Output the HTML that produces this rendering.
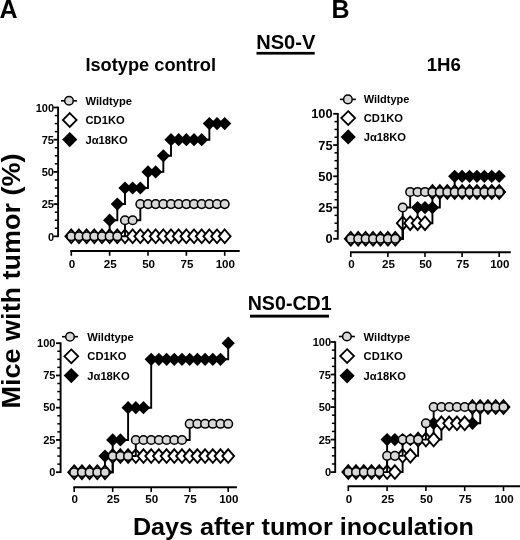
<!DOCTYPE html>
<html><head><meta charset="utf-8"><title>Figure</title>
<style>
html,body{margin:0;padding:0;background:#fff;}
body{width:520px;height:540px;overflow:hidden;}
svg{display:block;filter:blur(0.3px);}
</style></head>
<body>
<svg width="520" height="540" viewBox="0 0 520 540">
<rect width="520" height="540" fill="#fff"/>
<g stroke="#000" fill="none">
<line x1="58.1" y1="106.7" x2="58.1" y2="237.1" stroke-width="1.9"/>
<line x1="53.5" y1="236.3" x2="58.1" y2="236.3" stroke-width="1.8"/>
<line x1="54.8" y1="228.25" x2="58.1" y2="228.25" stroke-width="1.5"/>
<line x1="54.8" y1="220.2" x2="58.1" y2="220.2" stroke-width="1.5"/>
<line x1="54.8" y1="212.15" x2="58.1" y2="212.15" stroke-width="1.5"/>
<line x1="53.5" y1="204.1" x2="58.1" y2="204.1" stroke-width="1.8"/>
<line x1="54.8" y1="196.05" x2="58.1" y2="196.05" stroke-width="1.5"/>
<line x1="54.8" y1="188" x2="58.1" y2="188" stroke-width="1.5"/>
<line x1="54.8" y1="179.95" x2="58.1" y2="179.95" stroke-width="1.5"/>
<line x1="53.5" y1="171.9" x2="58.1" y2="171.9" stroke-width="1.8"/>
<line x1="54.8" y1="163.85" x2="58.1" y2="163.85" stroke-width="1.5"/>
<line x1="54.8" y1="155.8" x2="58.1" y2="155.8" stroke-width="1.5"/>
<line x1="54.8" y1="147.75" x2="58.1" y2="147.75" stroke-width="1.5"/>
<line x1="53.5" y1="139.7" x2="58.1" y2="139.7" stroke-width="1.8"/>
<line x1="54.8" y1="131.65" x2="58.1" y2="131.65" stroke-width="1.5"/>
<line x1="54.8" y1="123.6" x2="58.1" y2="123.6" stroke-width="1.5"/>
<line x1="54.8" y1="115.55" x2="58.1" y2="115.55" stroke-width="1.5"/>
<line x1="53.5" y1="107.5" x2="58.1" y2="107.5" stroke-width="1.8"/>
<line x1="70.3" y1="251" x2="239.7" y2="251" stroke-width="1.9"/>
<line x1="71.3" y1="251" x2="71.3" y2="255.8" stroke-width="1.6"/>
<line x1="109.65" y1="251" x2="109.65" y2="255.8" stroke-width="1.6"/>
<line x1="148" y1="251" x2="148" y2="255.8" stroke-width="1.6"/>
<line x1="186.35" y1="251" x2="186.35" y2="255.8" stroke-width="1.6"/>
<line x1="224.7" y1="251" x2="224.7" y2="255.8" stroke-width="1.6"/>
</g>
<g font-family='"Liberation Sans", Arial, Helvetica, sans-serif' font-weight="bold" font-size="11" fill="#000">
<text x="54" y="240.6" text-anchor="end" font-size="11">0</text>
<text x="54" y="208.4" text-anchor="end" font-size="11">25</text>
<text x="54" y="176.2" text-anchor="end" font-size="11">50</text>
<text x="54" y="144" text-anchor="end" font-size="11">75</text>
<text x="54" y="111.8" text-anchor="end" font-size="11">100</text>
<text x="71.9" y="267.6" text-anchor="middle" font-size="11.6">0</text>
<text x="110.25" y="267.6" text-anchor="middle" font-size="11.6">25</text>
<text x="148.6" y="267.6" text-anchor="middle" font-size="11.6">50</text>
<text x="186.95" y="267.6" text-anchor="middle" font-size="11.6">75</text>
<text x="225.3" y="267.6" text-anchor="middle" font-size="11.6">100</text>
</g>
<path d="M71.3 236.3H109.65 V220.2H117.32 V204.1H124.99 V188H148 V171.9H163.34 V155.8H171.01 V139.7H209.36 V123.6H224.7" fill="none" stroke="#000" stroke-width="1.9"/>
<polygon points="71.3,229.7 77.9,236.3 71.3,242.9 64.7,236.3" fill="#000"/>
<polygon points="78.97,229.7 85.57,236.3 78.97,242.9 72.37,236.3" fill="#000"/>
<polygon points="86.64,229.7 93.24,236.3 86.64,242.9 80.04,236.3" fill="#000"/>
<polygon points="94.31,229.7 100.91,236.3 94.31,242.9 87.71,236.3" fill="#000"/>
<polygon points="101.98,229.7 108.58,236.3 101.98,242.9 95.38,236.3" fill="#000"/>
<polygon points="109.65,213.6 116.25,220.2 109.65,226.8 103.05,220.2" fill="#000"/>
<polygon points="117.32,197.5 123.92,204.1 117.32,210.7 110.72,204.1" fill="#000"/>
<polygon points="124.99,181.4 131.59,188 124.99,194.6 118.39,188" fill="#000"/>
<polygon points="132.66,181.4 139.26,188 132.66,194.6 126.06,188" fill="#000"/>
<polygon points="140.33,181.4 146.93,188 140.33,194.6 133.73,188" fill="#000"/>
<polygon points="148,165.3 154.6,171.9 148,178.5 141.4,171.9" fill="#000"/>
<polygon points="155.67,165.3 162.27,171.9 155.67,178.5 149.07,171.9" fill="#000"/>
<polygon points="163.34,149.2 169.94,155.8 163.34,162.4 156.74,155.8" fill="#000"/>
<polygon points="171.01,133.1 177.61,139.7 171.01,146.3 164.41,139.7" fill="#000"/>
<polygon points="178.68,133.1 185.28,139.7 178.68,146.3 172.08,139.7" fill="#000"/>
<polygon points="186.35,133.1 192.95,139.7 186.35,146.3 179.75,139.7" fill="#000"/>
<polygon points="194.02,133.1 200.62,139.7 194.02,146.3 187.42,139.7" fill="#000"/>
<polygon points="201.69,133.1 208.29,139.7 201.69,146.3 195.09,139.7" fill="#000"/>
<polygon points="209.36,117 215.96,123.6 209.36,130.2 202.76,123.6" fill="#000"/>
<polygon points="217.03,117 223.63,123.6 217.03,130.2 210.43,123.6" fill="#000"/>
<polygon points="224.7,117 231.3,123.6 224.7,130.2 218.1,123.6" fill="#000"/>
<path d="M71.3 236.3H224.7" fill="none" stroke="#000" stroke-width="1.9"/>
<polygon points="71.3,229.5 77.2,236.3 71.3,243.1 65.4,236.3" fill="#fff" stroke="#000" stroke-width="1.9" stroke-linejoin="miter"/>
<polygon points="78.97,229.5 84.87,236.3 78.97,243.1 73.07,236.3" fill="#fff" stroke="#000" stroke-width="1.9" stroke-linejoin="miter"/>
<polygon points="86.64,229.5 92.54,236.3 86.64,243.1 80.74,236.3" fill="#fff" stroke="#000" stroke-width="1.9" stroke-linejoin="miter"/>
<polygon points="94.31,229.5 100.21,236.3 94.31,243.1 88.41,236.3" fill="#fff" stroke="#000" stroke-width="1.9" stroke-linejoin="miter"/>
<polygon points="101.98,229.5 107.88,236.3 101.98,243.1 96.08,236.3" fill="#fff" stroke="#000" stroke-width="1.9" stroke-linejoin="miter"/>
<polygon points="109.65,229.5 115.55,236.3 109.65,243.1 103.75,236.3" fill="#fff" stroke="#000" stroke-width="1.9" stroke-linejoin="miter"/>
<polygon points="117.32,229.5 123.22,236.3 117.32,243.1 111.42,236.3" fill="#fff" stroke="#000" stroke-width="1.9" stroke-linejoin="miter"/>
<polygon points="124.99,229.5 130.89,236.3 124.99,243.1 119.09,236.3" fill="#fff" stroke="#000" stroke-width="1.9" stroke-linejoin="miter"/>
<polygon points="132.66,229.5 138.56,236.3 132.66,243.1 126.76,236.3" fill="#fff" stroke="#000" stroke-width="1.9" stroke-linejoin="miter"/>
<polygon points="140.33,229.5 146.23,236.3 140.33,243.1 134.43,236.3" fill="#fff" stroke="#000" stroke-width="1.9" stroke-linejoin="miter"/>
<polygon points="148,229.5 153.9,236.3 148,243.1 142.1,236.3" fill="#fff" stroke="#000" stroke-width="1.9" stroke-linejoin="miter"/>
<polygon points="155.67,229.5 161.57,236.3 155.67,243.1 149.77,236.3" fill="#fff" stroke="#000" stroke-width="1.9" stroke-linejoin="miter"/>
<polygon points="163.34,229.5 169.24,236.3 163.34,243.1 157.44,236.3" fill="#fff" stroke="#000" stroke-width="1.9" stroke-linejoin="miter"/>
<polygon points="171.01,229.5 176.91,236.3 171.01,243.1 165.11,236.3" fill="#fff" stroke="#000" stroke-width="1.9" stroke-linejoin="miter"/>
<polygon points="178.68,229.5 184.58,236.3 178.68,243.1 172.78,236.3" fill="#fff" stroke="#000" stroke-width="1.9" stroke-linejoin="miter"/>
<polygon points="186.35,229.5 192.25,236.3 186.35,243.1 180.45,236.3" fill="#fff" stroke="#000" stroke-width="1.9" stroke-linejoin="miter"/>
<polygon points="194.02,229.5 199.92,236.3 194.02,243.1 188.12,236.3" fill="#fff" stroke="#000" stroke-width="1.9" stroke-linejoin="miter"/>
<polygon points="201.69,229.5 207.59,236.3 201.69,243.1 195.79,236.3" fill="#fff" stroke="#000" stroke-width="1.9" stroke-linejoin="miter"/>
<polygon points="209.36,229.5 215.26,236.3 209.36,243.1 203.46,236.3" fill="#fff" stroke="#000" stroke-width="1.9" stroke-linejoin="miter"/>
<polygon points="217.03,229.5 222.93,236.3 217.03,243.1 211.13,236.3" fill="#fff" stroke="#000" stroke-width="1.9" stroke-linejoin="miter"/>
<polygon points="224.7,229.5 230.6,236.3 224.7,243.1 218.8,236.3" fill="#fff" stroke="#000" stroke-width="1.9" stroke-linejoin="miter"/>
<path d="M71.3 236.3H124.99 V220.2H140.33 V204.1H224.7" fill="none" stroke="#000" stroke-width="1.9"/>
<circle cx="71.3" cy="236.3" r="4.3" fill="#d8d8d8" stroke="#000" stroke-width="1.5"/>
<circle cx="78.97" cy="236.3" r="4.3" fill="#d8d8d8" stroke="#000" stroke-width="1.5"/>
<circle cx="86.64" cy="236.3" r="4.3" fill="#d8d8d8" stroke="#000" stroke-width="1.5"/>
<circle cx="94.31" cy="236.3" r="4.3" fill="#d8d8d8" stroke="#000" stroke-width="1.5"/>
<circle cx="101.98" cy="236.3" r="4.3" fill="#d8d8d8" stroke="#000" stroke-width="1.5"/>
<circle cx="109.65" cy="236.3" r="4.3" fill="#d8d8d8" stroke="#000" stroke-width="1.5"/>
<circle cx="117.32" cy="236.3" r="4.3" fill="#d8d8d8" stroke="#000" stroke-width="1.5"/>
<circle cx="124.99" cy="220.2" r="4.3" fill="#d8d8d8" stroke="#000" stroke-width="1.5"/>
<circle cx="132.66" cy="220.2" r="4.3" fill="#d8d8d8" stroke="#000" stroke-width="1.5"/>
<circle cx="140.33" cy="204.1" r="4.3" fill="#d8d8d8" stroke="#000" stroke-width="1.5"/>
<circle cx="148" cy="204.1" r="4.3" fill="#d8d8d8" stroke="#000" stroke-width="1.5"/>
<circle cx="155.67" cy="204.1" r="4.3" fill="#d8d8d8" stroke="#000" stroke-width="1.5"/>
<circle cx="163.34" cy="204.1" r="4.3" fill="#d8d8d8" stroke="#000" stroke-width="1.5"/>
<circle cx="171.01" cy="204.1" r="4.3" fill="#d8d8d8" stroke="#000" stroke-width="1.5"/>
<circle cx="178.68" cy="204.1" r="4.3" fill="#d8d8d8" stroke="#000" stroke-width="1.5"/>
<circle cx="186.35" cy="204.1" r="4.3" fill="#d8d8d8" stroke="#000" stroke-width="1.5"/>
<circle cx="194.02" cy="204.1" r="4.3" fill="#d8d8d8" stroke="#000" stroke-width="1.5"/>
<circle cx="201.69" cy="204.1" r="4.3" fill="#d8d8d8" stroke="#000" stroke-width="1.5"/>
<circle cx="209.36" cy="204.1" r="4.3" fill="#d8d8d8" stroke="#000" stroke-width="1.5"/>
<circle cx="217.03" cy="204.1" r="4.3" fill="#d8d8d8" stroke="#000" stroke-width="1.5"/>
<circle cx="224.7" cy="204.1" r="4.3" fill="#d8d8d8" stroke="#000" stroke-width="1.5"/>
<line x1="61" y1="100.8" x2="77" y2="100.8" stroke="#000" stroke-width="1.6"/>
<circle cx="69" cy="100.8" r="4.3" fill="#d8d8d8" stroke="#000" stroke-width="1.5"/>
<polygon points="69.75,113.1 76.65,120 69.75,126.9 62.85,120" fill="#fff" stroke="#000" stroke-width="1.8"/>
<polygon points="69.75,132 77.35,139.6 69.75,147.2 62.15,139.6" fill="#000"/>
<g font-family='"Liberation Sans", Arial, Helvetica, sans-serif' font-weight="bold" font-size="11.2" fill="#000">
<text x="85.5" y="104.8">Wildtype</text>
<text x="85.5" y="124">CD1KO</text>
<text x="85.5" y="143.6">J&#945;18KO</text>
</g>
<g stroke="#000" fill="none">
<line x1="337.8" y1="113" x2="337.8" y2="239.6" stroke-width="1.9"/>
<line x1="333.2" y1="238.8" x2="337.8" y2="238.8" stroke-width="1.8"/>
<line x1="334.5" y1="230.99" x2="337.8" y2="230.99" stroke-width="1.5"/>
<line x1="334.5" y1="223.18" x2="337.8" y2="223.18" stroke-width="1.5"/>
<line x1="334.5" y1="215.36" x2="337.8" y2="215.36" stroke-width="1.5"/>
<line x1="333.2" y1="207.55" x2="337.8" y2="207.55" stroke-width="1.8"/>
<line x1="334.5" y1="199.74" x2="337.8" y2="199.74" stroke-width="1.5"/>
<line x1="334.5" y1="191.93" x2="337.8" y2="191.93" stroke-width="1.5"/>
<line x1="334.5" y1="184.11" x2="337.8" y2="184.11" stroke-width="1.5"/>
<line x1="333.2" y1="176.3" x2="337.8" y2="176.3" stroke-width="1.8"/>
<line x1="334.5" y1="168.49" x2="337.8" y2="168.49" stroke-width="1.5"/>
<line x1="334.5" y1="160.68" x2="337.8" y2="160.68" stroke-width="1.5"/>
<line x1="334.5" y1="152.86" x2="337.8" y2="152.86" stroke-width="1.5"/>
<line x1="333.2" y1="145.05" x2="337.8" y2="145.05" stroke-width="1.8"/>
<line x1="334.5" y1="137.24" x2="337.8" y2="137.24" stroke-width="1.5"/>
<line x1="334.5" y1="129.43" x2="337.8" y2="129.43" stroke-width="1.5"/>
<line x1="334.5" y1="121.61" x2="337.8" y2="121.61" stroke-width="1.5"/>
<line x1="333.2" y1="113.8" x2="337.8" y2="113.8" stroke-width="1.8"/>
<line x1="350" y1="252.3" x2="510.8" y2="252.3" stroke-width="1.9"/>
<line x1="350.8" y1="252.3" x2="350.8" y2="257.1" stroke-width="1.6"/>
<line x1="387.9" y1="252.3" x2="387.9" y2="257.1" stroke-width="1.6"/>
<line x1="425" y1="252.3" x2="425" y2="257.1" stroke-width="1.6"/>
<line x1="462.1" y1="252.3" x2="462.1" y2="257.1" stroke-width="1.6"/>
<line x1="499.2" y1="252.3" x2="499.2" y2="257.1" stroke-width="1.6"/>
</g>
<g font-family='"Liberation Sans", Arial, Helvetica, sans-serif' font-weight="bold" font-size="11" fill="#000">
<text x="332.6" y="243.4" text-anchor="end" font-size="12.8">0</text>
<text x="332.6" y="212.15" text-anchor="end" font-size="12.8">25</text>
<text x="332.6" y="180.9" text-anchor="end" font-size="12.8">50</text>
<text x="332.6" y="149.65" text-anchor="end" font-size="12.8">75</text>
<text x="332.6" y="118.4" text-anchor="end" font-size="12.8">100</text>
<text x="351.4" y="267.8" text-anchor="middle" font-size="11.6">0</text>
<text x="388.5" y="267.8" text-anchor="middle" font-size="11.6">25</text>
<text x="425.6" y="267.8" text-anchor="middle" font-size="11.6">50</text>
<text x="462.7" y="267.8" text-anchor="middle" font-size="11.6">75</text>
<text x="499.8" y="267.8" text-anchor="middle" font-size="11.6">100</text>
</g>
<path d="M350.8 238.8H402.74 V223.18H417.58 V207.55H439.84 V191.93H454.68 V176.3H499.2" fill="none" stroke="#000" stroke-width="1.9"/>
<polygon points="350.8,232.2 357.4,238.8 350.8,245.4 344.2,238.8" fill="#000"/>
<polygon points="358.22,232.2 364.82,238.8 358.22,245.4 351.62,238.8" fill="#000"/>
<polygon points="365.64,232.2 372.24,238.8 365.64,245.4 359.04,238.8" fill="#000"/>
<polygon points="373.06,232.2 379.66,238.8 373.06,245.4 366.46,238.8" fill="#000"/>
<polygon points="380.48,232.2 387.08,238.8 380.48,245.4 373.88,238.8" fill="#000"/>
<polygon points="387.9,232.2 394.5,238.8 387.9,245.4 381.3,238.8" fill="#000"/>
<polygon points="395.32,232.2 401.92,238.8 395.32,245.4 388.72,238.8" fill="#000"/>
<polygon points="402.74,216.58 409.34,223.18 402.74,229.78 396.14,223.18" fill="#000"/>
<polygon points="410.16,216.58 416.76,223.18 410.16,229.78 403.56,223.18" fill="#000"/>
<polygon points="417.58,200.95 424.18,207.55 417.58,214.15 410.98,207.55" fill="#000"/>
<polygon points="425,200.95 431.6,207.55 425,214.15 418.4,207.55" fill="#000"/>
<polygon points="432.42,200.95 439.02,207.55 432.42,214.15 425.82,207.55" fill="#000"/>
<polygon points="439.84,185.33 446.44,191.93 439.84,198.53 433.24,191.93" fill="#000"/>
<polygon points="447.26,185.33 453.86,191.93 447.26,198.53 440.66,191.93" fill="#000"/>
<polygon points="454.68,169.7 461.28,176.3 454.68,182.9 448.08,176.3" fill="#000"/>
<polygon points="462.1,169.7 468.7,176.3 462.1,182.9 455.5,176.3" fill="#000"/>
<polygon points="469.52,169.7 476.12,176.3 469.52,182.9 462.92,176.3" fill="#000"/>
<polygon points="476.94,169.7 483.54,176.3 476.94,182.9 470.34,176.3" fill="#000"/>
<polygon points="484.36,169.7 490.96,176.3 484.36,182.9 477.76,176.3" fill="#000"/>
<polygon points="491.78,169.7 498.38,176.3 491.78,182.9 485.18,176.3" fill="#000"/>
<polygon points="499.2,169.7 505.8,176.3 499.2,182.9 492.6,176.3" fill="#000"/>
<path d="M350.8 238.8H402.74 V223.18H432.42 V191.93H499.2" fill="none" stroke="#000" stroke-width="1.9"/>
<polygon points="350.8,232 356.7,238.8 350.8,245.6 344.9,238.8" fill="#fff" stroke="#000" stroke-width="1.9" stroke-linejoin="miter"/>
<polygon points="358.22,232 364.12,238.8 358.22,245.6 352.32,238.8" fill="#fff" stroke="#000" stroke-width="1.9" stroke-linejoin="miter"/>
<polygon points="365.64,232 371.54,238.8 365.64,245.6 359.74,238.8" fill="#fff" stroke="#000" stroke-width="1.9" stroke-linejoin="miter"/>
<polygon points="373.06,232 378.96,238.8 373.06,245.6 367.16,238.8" fill="#fff" stroke="#000" stroke-width="1.9" stroke-linejoin="miter"/>
<polygon points="380.48,232 386.38,238.8 380.48,245.6 374.58,238.8" fill="#fff" stroke="#000" stroke-width="1.9" stroke-linejoin="miter"/>
<polygon points="387.9,232 393.8,238.8 387.9,245.6 382,238.8" fill="#fff" stroke="#000" stroke-width="1.9" stroke-linejoin="miter"/>
<polygon points="395.32,232 401.22,238.8 395.32,245.6 389.42,238.8" fill="#fff" stroke="#000" stroke-width="1.9" stroke-linejoin="miter"/>
<polygon points="402.74,216.38 408.64,223.18 402.74,229.98 396.84,223.18" fill="#fff" stroke="#000" stroke-width="1.9" stroke-linejoin="miter"/>
<polygon points="410.16,216.38 416.06,223.18 410.16,229.98 404.26,223.18" fill="#fff" stroke="#000" stroke-width="1.9" stroke-linejoin="miter"/>
<polygon points="417.58,216.38 423.48,223.18 417.58,229.98 411.68,223.18" fill="#fff" stroke="#000" stroke-width="1.9" stroke-linejoin="miter"/>
<polygon points="425,216.38 430.9,223.18 425,229.98 419.1,223.18" fill="#fff" stroke="#000" stroke-width="1.9" stroke-linejoin="miter"/>
<polygon points="432.42,185.12 438.32,191.93 432.42,198.73 426.52,191.93" fill="#fff" stroke="#000" stroke-width="1.9" stroke-linejoin="miter"/>
<polygon points="439.84,185.12 445.74,191.93 439.84,198.73 433.94,191.93" fill="#fff" stroke="#000" stroke-width="1.9" stroke-linejoin="miter"/>
<polygon points="447.26,185.12 453.16,191.93 447.26,198.73 441.36,191.93" fill="#fff" stroke="#000" stroke-width="1.9" stroke-linejoin="miter"/>
<polygon points="454.68,185.12 460.58,191.93 454.68,198.73 448.78,191.93" fill="#fff" stroke="#000" stroke-width="1.9" stroke-linejoin="miter"/>
<polygon points="462.1,185.12 468,191.93 462.1,198.73 456.2,191.93" fill="#fff" stroke="#000" stroke-width="1.9" stroke-linejoin="miter"/>
<polygon points="469.52,185.12 475.42,191.93 469.52,198.73 463.62,191.93" fill="#fff" stroke="#000" stroke-width="1.9" stroke-linejoin="miter"/>
<polygon points="476.94,185.12 482.84,191.93 476.94,198.73 471.04,191.93" fill="#fff" stroke="#000" stroke-width="1.9" stroke-linejoin="miter"/>
<polygon points="484.36,185.12 490.26,191.93 484.36,198.73 478.46,191.93" fill="#fff" stroke="#000" stroke-width="1.9" stroke-linejoin="miter"/>
<polygon points="491.78,185.12 497.68,191.93 491.78,198.73 485.88,191.93" fill="#fff" stroke="#000" stroke-width="1.9" stroke-linejoin="miter"/>
<polygon points="499.2,185.12 505.1,191.93 499.2,198.73 493.3,191.93" fill="#fff" stroke="#000" stroke-width="1.9" stroke-linejoin="miter"/>
<path d="M350.8 238.8H402.74 V207.55H410.16 V191.93H499.2" fill="none" stroke="#000" stroke-width="1.9"/>
<circle cx="350.8" cy="238.8" r="4.3" fill="#d8d8d8" stroke="#000" stroke-width="1.5"/>
<circle cx="358.22" cy="238.8" r="4.3" fill="#d8d8d8" stroke="#000" stroke-width="1.5"/>
<circle cx="365.64" cy="238.8" r="4.3" fill="#d8d8d8" stroke="#000" stroke-width="1.5"/>
<circle cx="373.06" cy="238.8" r="4.3" fill="#d8d8d8" stroke="#000" stroke-width="1.5"/>
<circle cx="380.48" cy="238.8" r="4.3" fill="#d8d8d8" stroke="#000" stroke-width="1.5"/>
<circle cx="387.9" cy="238.8" r="4.3" fill="#d8d8d8" stroke="#000" stroke-width="1.5"/>
<circle cx="395.32" cy="238.8" r="4.3" fill="#d8d8d8" stroke="#000" stroke-width="1.5"/>
<circle cx="402.74" cy="207.55" r="4.3" fill="#d8d8d8" stroke="#000" stroke-width="1.5"/>
<circle cx="410.16" cy="191.93" r="4.3" fill="#d8d8d8" stroke="#000" stroke-width="1.5"/>
<circle cx="417.58" cy="191.93" r="4.3" fill="#d8d8d8" stroke="#000" stroke-width="1.5"/>
<circle cx="425" cy="191.93" r="4.3" fill="#d8d8d8" stroke="#000" stroke-width="1.5"/>
<circle cx="432.42" cy="191.93" r="4.3" fill="#d8d8d8" stroke="#000" stroke-width="1.5"/>
<circle cx="439.84" cy="191.93" r="4.3" fill="#d8d8d8" stroke="#000" stroke-width="1.5"/>
<circle cx="447.26" cy="191.93" r="4.3" fill="#d8d8d8" stroke="#000" stroke-width="1.5"/>
<circle cx="454.68" cy="191.93" r="4.3" fill="#d8d8d8" stroke="#000" stroke-width="1.5"/>
<circle cx="462.1" cy="191.93" r="4.3" fill="#d8d8d8" stroke="#000" stroke-width="1.5"/>
<circle cx="469.52" cy="191.93" r="4.3" fill="#d8d8d8" stroke="#000" stroke-width="1.5"/>
<circle cx="476.94" cy="191.93" r="4.3" fill="#d8d8d8" stroke="#000" stroke-width="1.5"/>
<circle cx="484.36" cy="191.93" r="4.3" fill="#d8d8d8" stroke="#000" stroke-width="1.5"/>
<circle cx="491.78" cy="191.93" r="4.3" fill="#d8d8d8" stroke="#000" stroke-width="1.5"/>
<circle cx="499.2" cy="191.93" r="4.3" fill="#d8d8d8" stroke="#000" stroke-width="1.5"/>
<line x1="339.9" y1="99.4" x2="355.9" y2="99.4" stroke="#000" stroke-width="1.6"/>
<circle cx="347.9" cy="99.4" r="4.3" fill="#d8d8d8" stroke="#000" stroke-width="1.5"/>
<polygon points="348.2,111.2 355.1,118.1 348.2,125 341.3,118.1" fill="#fff" stroke="#000" stroke-width="1.8"/>
<polygon points="348.2,129.3 355.8,136.9 348.2,144.5 340.6,136.9" fill="#000"/>
<g font-family='"Liberation Sans", Arial, Helvetica, sans-serif' font-weight="bold" font-size="11.2" fill="#000">
<text x="363.75" y="103.4" textLength="45.6" lengthAdjust="spacingAndGlyphs">Wildtype</text>
<text x="363.75" y="122.1">CD1KO</text>
<text x="363.75" y="140.9">J&#945;18KO</text>
</g>
<g stroke="#000" fill="none">
<line x1="60.6" y1="342.4" x2="60.6" y2="473" stroke-width="1.9"/>
<line x1="56" y1="472.2" x2="60.6" y2="472.2" stroke-width="1.8"/>
<line x1="57.3" y1="464.14" x2="60.6" y2="464.14" stroke-width="1.5"/>
<line x1="57.3" y1="456.07" x2="60.6" y2="456.07" stroke-width="1.5"/>
<line x1="57.3" y1="448.01" x2="60.6" y2="448.01" stroke-width="1.5"/>
<line x1="56" y1="439.95" x2="60.6" y2="439.95" stroke-width="1.8"/>
<line x1="57.3" y1="431.89" x2="60.6" y2="431.89" stroke-width="1.5"/>
<line x1="57.3" y1="423.82" x2="60.6" y2="423.82" stroke-width="1.5"/>
<line x1="57.3" y1="415.76" x2="60.6" y2="415.76" stroke-width="1.5"/>
<line x1="56" y1="407.7" x2="60.6" y2="407.7" stroke-width="1.8"/>
<line x1="57.3" y1="399.64" x2="60.6" y2="399.64" stroke-width="1.5"/>
<line x1="57.3" y1="391.57" x2="60.6" y2="391.57" stroke-width="1.5"/>
<line x1="57.3" y1="383.51" x2="60.6" y2="383.51" stroke-width="1.5"/>
<line x1="56" y1="375.45" x2="60.6" y2="375.45" stroke-width="1.8"/>
<line x1="57.3" y1="367.39" x2="60.6" y2="367.39" stroke-width="1.5"/>
<line x1="57.3" y1="359.32" x2="60.6" y2="359.32" stroke-width="1.5"/>
<line x1="57.3" y1="351.26" x2="60.6" y2="351.26" stroke-width="1.5"/>
<line x1="56" y1="343.2" x2="60.6" y2="343.2" stroke-width="1.8"/>
<line x1="73.3" y1="487.2" x2="236.9" y2="487.2" stroke-width="1.9"/>
<line x1="74.2" y1="487.2" x2="74.2" y2="492" stroke-width="1.6"/>
<line x1="112.7" y1="487.2" x2="112.7" y2="492" stroke-width="1.6"/>
<line x1="151.2" y1="487.2" x2="151.2" y2="492" stroke-width="1.6"/>
<line x1="189.7" y1="487.2" x2="189.7" y2="492" stroke-width="1.6"/>
<line x1="228.2" y1="487.2" x2="228.2" y2="492" stroke-width="1.6"/>
</g>
<g font-family='"Liberation Sans", Arial, Helvetica, sans-serif' font-weight="bold" font-size="11" fill="#000">
<text x="55.4" y="475.9" text-anchor="end" font-size="11">0</text>
<text x="55.4" y="443.65" text-anchor="end" font-size="11">25</text>
<text x="55.4" y="411.4" text-anchor="end" font-size="11">50</text>
<text x="55.4" y="379.15" text-anchor="end" font-size="11">75</text>
<text x="55.4" y="346.9" text-anchor="end" font-size="11">100</text>
<text x="74.8" y="503" text-anchor="middle" font-size="11.6">0</text>
<text x="113.3" y="503" text-anchor="middle" font-size="11.6">25</text>
<text x="151.8" y="503" text-anchor="middle" font-size="11.6">50</text>
<text x="190.3" y="503" text-anchor="middle" font-size="11.6">75</text>
<text x="228.8" y="503" text-anchor="middle" font-size="11.6">100</text>
</g>
<path d="M74.2 472.2H105 V456.07H112.7 V439.95H128.1 V407.7H151.2 V359.32H228.2 V343.2H228.2" fill="none" stroke="#000" stroke-width="1.9"/>
<polygon points="74.2,465.6 80.8,472.2 74.2,478.8 67.6,472.2" fill="#000"/>
<polygon points="81.9,465.6 88.5,472.2 81.9,478.8 75.3,472.2" fill="#000"/>
<polygon points="89.6,465.6 96.2,472.2 89.6,478.8 83,472.2" fill="#000"/>
<polygon points="97.3,465.6 103.9,472.2 97.3,478.8 90.7,472.2" fill="#000"/>
<polygon points="105,449.47 111.6,456.07 105,462.68 98.4,456.07" fill="#000"/>
<polygon points="112.7,433.35 119.3,439.95 112.7,446.55 106.1,439.95" fill="#000"/>
<polygon points="120.4,433.35 127,439.95 120.4,446.55 113.8,439.95" fill="#000"/>
<polygon points="128.1,401.1 134.7,407.7 128.1,414.3 121.5,407.7" fill="#000"/>
<polygon points="135.8,401.1 142.4,407.7 135.8,414.3 129.2,407.7" fill="#000"/>
<polygon points="143.5,401.1 150.1,407.7 143.5,414.3 136.9,407.7" fill="#000"/>
<polygon points="151.2,352.72 157.8,359.32 151.2,365.93 144.6,359.32" fill="#000"/>
<polygon points="158.9,352.72 165.5,359.32 158.9,365.93 152.3,359.32" fill="#000"/>
<polygon points="166.6,352.72 173.2,359.32 166.6,365.93 160,359.32" fill="#000"/>
<polygon points="174.3,352.72 180.9,359.32 174.3,365.93 167.7,359.32" fill="#000"/>
<polygon points="182,352.72 188.6,359.32 182,365.93 175.4,359.32" fill="#000"/>
<polygon points="189.7,352.72 196.3,359.32 189.7,365.93 183.1,359.32" fill="#000"/>
<polygon points="197.4,352.72 204,359.32 197.4,365.93 190.8,359.32" fill="#000"/>
<polygon points="205.1,352.72 211.7,359.32 205.1,365.93 198.5,359.32" fill="#000"/>
<polygon points="212.8,352.72 219.4,359.32 212.8,365.93 206.2,359.32" fill="#000"/>
<polygon points="220.5,352.72 227.1,359.32 220.5,365.93 213.9,359.32" fill="#000"/>
<polygon points="228.2,336.6 234.8,343.2 228.2,349.8 221.6,343.2" fill="#000"/>
<path d="M74.2 472.2H112.7 V456.07H228.2" fill="none" stroke="#000" stroke-width="1.9"/>
<polygon points="74.2,465.4 80.1,472.2 74.2,479 68.3,472.2" fill="#fff" stroke="#000" stroke-width="1.9" stroke-linejoin="miter"/>
<polygon points="81.9,465.4 87.8,472.2 81.9,479 76,472.2" fill="#fff" stroke="#000" stroke-width="1.9" stroke-linejoin="miter"/>
<polygon points="89.6,465.4 95.5,472.2 89.6,479 83.7,472.2" fill="#fff" stroke="#000" stroke-width="1.9" stroke-linejoin="miter"/>
<polygon points="97.3,465.4 103.2,472.2 97.3,479 91.4,472.2" fill="#fff" stroke="#000" stroke-width="1.9" stroke-linejoin="miter"/>
<polygon points="105,465.4 110.9,472.2 105,479 99.1,472.2" fill="#fff" stroke="#000" stroke-width="1.9" stroke-linejoin="miter"/>
<polygon points="112.7,449.27 118.6,456.07 112.7,462.88 106.8,456.07" fill="#fff" stroke="#000" stroke-width="1.9" stroke-linejoin="miter"/>
<polygon points="120.4,449.27 126.3,456.07 120.4,462.88 114.5,456.07" fill="#fff" stroke="#000" stroke-width="1.9" stroke-linejoin="miter"/>
<polygon points="128.1,449.27 134,456.07 128.1,462.88 122.2,456.07" fill="#fff" stroke="#000" stroke-width="1.9" stroke-linejoin="miter"/>
<polygon points="135.8,449.27 141.7,456.07 135.8,462.88 129.9,456.07" fill="#fff" stroke="#000" stroke-width="1.9" stroke-linejoin="miter"/>
<polygon points="143.5,449.27 149.4,456.07 143.5,462.88 137.6,456.07" fill="#fff" stroke="#000" stroke-width="1.9" stroke-linejoin="miter"/>
<polygon points="151.2,449.27 157.1,456.07 151.2,462.88 145.3,456.07" fill="#fff" stroke="#000" stroke-width="1.9" stroke-linejoin="miter"/>
<polygon points="158.9,449.27 164.8,456.07 158.9,462.88 153,456.07" fill="#fff" stroke="#000" stroke-width="1.9" stroke-linejoin="miter"/>
<polygon points="166.6,449.27 172.5,456.07 166.6,462.88 160.7,456.07" fill="#fff" stroke="#000" stroke-width="1.9" stroke-linejoin="miter"/>
<polygon points="174.3,449.27 180.2,456.07 174.3,462.88 168.4,456.07" fill="#fff" stroke="#000" stroke-width="1.9" stroke-linejoin="miter"/>
<polygon points="182,449.27 187.9,456.07 182,462.88 176.1,456.07" fill="#fff" stroke="#000" stroke-width="1.9" stroke-linejoin="miter"/>
<polygon points="189.7,449.27 195.6,456.07 189.7,462.88 183.8,456.07" fill="#fff" stroke="#000" stroke-width="1.9" stroke-linejoin="miter"/>
<polygon points="197.4,449.27 203.3,456.07 197.4,462.88 191.5,456.07" fill="#fff" stroke="#000" stroke-width="1.9" stroke-linejoin="miter"/>
<polygon points="205.1,449.27 211,456.07 205.1,462.88 199.2,456.07" fill="#fff" stroke="#000" stroke-width="1.9" stroke-linejoin="miter"/>
<polygon points="212.8,449.27 218.7,456.07 212.8,462.88 206.9,456.07" fill="#fff" stroke="#000" stroke-width="1.9" stroke-linejoin="miter"/>
<polygon points="220.5,449.27 226.4,456.07 220.5,462.88 214.6,456.07" fill="#fff" stroke="#000" stroke-width="1.9" stroke-linejoin="miter"/>
<polygon points="228.2,449.27 234.1,456.07 228.2,462.88 222.3,456.07" fill="#fff" stroke="#000" stroke-width="1.9" stroke-linejoin="miter"/>
<path d="M74.2 472.2H112.7 V456.07H135.8 V439.95H189.7 V423.82H228.2" fill="none" stroke="#000" stroke-width="1.9"/>
<circle cx="74.2" cy="472.2" r="4.3" fill="#d8d8d8" stroke="#000" stroke-width="1.5"/>
<circle cx="81.9" cy="472.2" r="4.3" fill="#d8d8d8" stroke="#000" stroke-width="1.5"/>
<circle cx="89.6" cy="472.2" r="4.3" fill="#d8d8d8" stroke="#000" stroke-width="1.5"/>
<circle cx="97.3" cy="472.2" r="4.3" fill="#d8d8d8" stroke="#000" stroke-width="1.5"/>
<circle cx="105" cy="472.2" r="4.3" fill="#d8d8d8" stroke="#000" stroke-width="1.5"/>
<circle cx="112.7" cy="456.07" r="4.3" fill="#d8d8d8" stroke="#000" stroke-width="1.5"/>
<circle cx="120.4" cy="456.07" r="4.3" fill="#d8d8d8" stroke="#000" stroke-width="1.5"/>
<circle cx="128.1" cy="456.07" r="4.3" fill="#d8d8d8" stroke="#000" stroke-width="1.5"/>
<circle cx="135.8" cy="439.95" r="4.3" fill="#d8d8d8" stroke="#000" stroke-width="1.5"/>
<circle cx="143.5" cy="439.95" r="4.3" fill="#d8d8d8" stroke="#000" stroke-width="1.5"/>
<circle cx="151.2" cy="439.95" r="4.3" fill="#d8d8d8" stroke="#000" stroke-width="1.5"/>
<circle cx="158.9" cy="439.95" r="4.3" fill="#d8d8d8" stroke="#000" stroke-width="1.5"/>
<circle cx="166.6" cy="439.95" r="4.3" fill="#d8d8d8" stroke="#000" stroke-width="1.5"/>
<circle cx="174.3" cy="439.95" r="4.3" fill="#d8d8d8" stroke="#000" stroke-width="1.5"/>
<circle cx="182" cy="439.95" r="4.3" fill="#d8d8d8" stroke="#000" stroke-width="1.5"/>
<circle cx="189.7" cy="423.82" r="4.3" fill="#d8d8d8" stroke="#000" stroke-width="1.5"/>
<circle cx="197.4" cy="423.82" r="4.3" fill="#d8d8d8" stroke="#000" stroke-width="1.5"/>
<circle cx="205.1" cy="423.82" r="4.3" fill="#d8d8d8" stroke="#000" stroke-width="1.5"/>
<circle cx="212.8" cy="423.82" r="4.3" fill="#d8d8d8" stroke="#000" stroke-width="1.5"/>
<circle cx="220.5" cy="423.82" r="4.3" fill="#d8d8d8" stroke="#000" stroke-width="1.5"/>
<circle cx="228.2" cy="423.82" r="4.3" fill="#d8d8d8" stroke="#000" stroke-width="1.5"/>
<line x1="62" y1="336.7" x2="78" y2="336.7" stroke="#000" stroke-width="1.6"/>
<circle cx="70" cy="336.7" r="4.3" fill="#d8d8d8" stroke="#000" stroke-width="1.5"/>
<polygon points="71.3,349.4 78.2,356.3 71.3,363.2 64.4,356.3" fill="#fff" stroke="#000" stroke-width="1.8"/>
<polygon points="71.3,368 78.9,375.6 71.3,383.2 63.7,375.6" fill="#000"/>
<g font-family='"Liberation Sans", Arial, Helvetica, sans-serif' font-weight="bold" font-size="11.2" fill="#000">
<text x="87.3" y="340.7">Wildtype</text>
<text x="87.3" y="360.3">CD1KO</text>
<text x="87.3" y="379.6">J&#945;18KO</text>
</g>
<g stroke="#000" fill="none">
<line x1="335.2" y1="341.2" x2="335.2" y2="472.9" stroke-width="1.9"/>
<line x1="330.6" y1="472.1" x2="335.2" y2="472.1" stroke-width="1.8"/>
<line x1="331.9" y1="463.97" x2="335.2" y2="463.97" stroke-width="1.5"/>
<line x1="331.9" y1="455.84" x2="335.2" y2="455.84" stroke-width="1.5"/>
<line x1="331.9" y1="447.71" x2="335.2" y2="447.71" stroke-width="1.5"/>
<line x1="330.6" y1="439.58" x2="335.2" y2="439.58" stroke-width="1.8"/>
<line x1="331.9" y1="431.44" x2="335.2" y2="431.44" stroke-width="1.5"/>
<line x1="331.9" y1="423.31" x2="335.2" y2="423.31" stroke-width="1.5"/>
<line x1="331.9" y1="415.18" x2="335.2" y2="415.18" stroke-width="1.5"/>
<line x1="330.6" y1="407.05" x2="335.2" y2="407.05" stroke-width="1.8"/>
<line x1="331.9" y1="398.92" x2="335.2" y2="398.92" stroke-width="1.5"/>
<line x1="331.9" y1="390.79" x2="335.2" y2="390.79" stroke-width="1.5"/>
<line x1="331.9" y1="382.66" x2="335.2" y2="382.66" stroke-width="1.5"/>
<line x1="330.6" y1="374.52" x2="335.2" y2="374.52" stroke-width="1.8"/>
<line x1="331.9" y1="366.39" x2="335.2" y2="366.39" stroke-width="1.5"/>
<line x1="331.9" y1="358.26" x2="335.2" y2="358.26" stroke-width="1.5"/>
<line x1="331.9" y1="350.13" x2="335.2" y2="350.13" stroke-width="1.5"/>
<line x1="330.6" y1="342" x2="335.2" y2="342" stroke-width="1.8"/>
<line x1="347.6" y1="486.3" x2="520" y2="486.3" stroke-width="1.9"/>
<line x1="348.3" y1="486.3" x2="348.3" y2="491.1" stroke-width="1.6"/>
<line x1="387.1" y1="486.3" x2="387.1" y2="491.1" stroke-width="1.6"/>
<line x1="425.9" y1="486.3" x2="425.9" y2="491.1" stroke-width="1.6"/>
<line x1="464.7" y1="486.3" x2="464.7" y2="491.1" stroke-width="1.6"/>
<line x1="503.5" y1="486.3" x2="503.5" y2="491.1" stroke-width="1.6"/>
</g>
<g font-family='"Liberation Sans", Arial, Helvetica, sans-serif' font-weight="bold" font-size="11" fill="#000">
<text x="331" y="476.1" text-anchor="end" font-size="11">0</text>
<text x="331" y="443.58" text-anchor="end" font-size="11">25</text>
<text x="331" y="411.05" text-anchor="end" font-size="11">50</text>
<text x="331" y="378.52" text-anchor="end" font-size="11">75</text>
<text x="331" y="346" text-anchor="end" font-size="11">100</text>
<text x="348.9" y="503" text-anchor="middle" font-size="11.6">0</text>
<text x="387.7" y="503" text-anchor="middle" font-size="11.6">25</text>
<text x="426.5" y="503" text-anchor="middle" font-size="11.6">50</text>
<text x="465.3" y="503" text-anchor="middle" font-size="11.6">75</text>
<text x="504.1" y="503" text-anchor="middle" font-size="11.6">100</text>
</g>
<path d="M348.3 472.1H387.1 V439.58H433.66 V423.31H480.22 V407.05H503.5" fill="none" stroke="#000" stroke-width="1.9"/>
<polygon points="348.3,465.5 354.9,472.1 348.3,478.7 341.7,472.1" fill="#000"/>
<polygon points="356.06,465.5 362.66,472.1 356.06,478.7 349.46,472.1" fill="#000"/>
<polygon points="363.82,465.5 370.42,472.1 363.82,478.7 357.22,472.1" fill="#000"/>
<polygon points="371.58,465.5 378.18,472.1 371.58,478.7 364.98,472.1" fill="#000"/>
<polygon points="379.34,465.5 385.94,472.1 379.34,478.7 372.74,472.1" fill="#000"/>
<polygon points="387.1,432.98 393.7,439.58 387.1,446.18 380.5,439.58" fill="#000"/>
<polygon points="394.86,432.98 401.46,439.58 394.86,446.18 388.26,439.58" fill="#000"/>
<polygon points="402.62,432.98 409.22,439.58 402.62,446.18 396.02,439.58" fill="#000"/>
<polygon points="410.38,432.98 416.98,439.58 410.38,446.18 403.78,439.58" fill="#000"/>
<polygon points="418.14,432.98 424.74,439.58 418.14,446.18 411.54,439.58" fill="#000"/>
<polygon points="425.9,432.98 432.5,439.58 425.9,446.18 419.3,439.58" fill="#000"/>
<polygon points="433.66,416.71 440.26,423.31 433.66,429.91 427.06,423.31" fill="#000"/>
<polygon points="441.42,416.71 448.02,423.31 441.42,429.91 434.82,423.31" fill="#000"/>
<polygon points="449.18,416.71 455.78,423.31 449.18,429.91 442.58,423.31" fill="#000"/>
<polygon points="456.94,416.71 463.54,423.31 456.94,429.91 450.34,423.31" fill="#000"/>
<polygon points="464.7,416.71 471.3,423.31 464.7,429.91 458.1,423.31" fill="#000"/>
<polygon points="472.46,416.71 479.06,423.31 472.46,429.91 465.86,423.31" fill="#000"/>
<polygon points="480.22,400.45 486.82,407.05 480.22,413.65 473.62,407.05" fill="#000"/>
<polygon points="487.98,400.45 494.58,407.05 487.98,413.65 481.38,407.05" fill="#000"/>
<polygon points="495.74,400.45 502.34,407.05 495.74,413.65 489.14,407.05" fill="#000"/>
<polygon points="503.5,400.45 510.1,407.05 503.5,413.65 496.9,407.05" fill="#000"/>
<path d="M348.3 472.1H402.62 V455.84H418.14 V439.58H441.42 V423.31H472.46 V407.05H503.5" fill="none" stroke="#000" stroke-width="1.9"/>
<polygon points="348.3,465.3 354.2,472.1 348.3,478.9 342.4,472.1" fill="#fff" stroke="#000" stroke-width="1.9" stroke-linejoin="miter"/>
<polygon points="356.06,465.3 361.96,472.1 356.06,478.9 350.16,472.1" fill="#fff" stroke="#000" stroke-width="1.9" stroke-linejoin="miter"/>
<polygon points="363.82,465.3 369.72,472.1 363.82,478.9 357.92,472.1" fill="#fff" stroke="#000" stroke-width="1.9" stroke-linejoin="miter"/>
<polygon points="371.58,465.3 377.48,472.1 371.58,478.9 365.68,472.1" fill="#fff" stroke="#000" stroke-width="1.9" stroke-linejoin="miter"/>
<polygon points="379.34,465.3 385.24,472.1 379.34,478.9 373.44,472.1" fill="#fff" stroke="#000" stroke-width="1.9" stroke-linejoin="miter"/>
<polygon points="387.1,465.3 393,472.1 387.1,478.9 381.2,472.1" fill="#fff" stroke="#000" stroke-width="1.9" stroke-linejoin="miter"/>
<polygon points="394.86,465.3 400.76,472.1 394.86,478.9 388.96,472.1" fill="#fff" stroke="#000" stroke-width="1.9" stroke-linejoin="miter"/>
<polygon points="402.62,449.04 408.52,455.84 402.62,462.64 396.72,455.84" fill="#fff" stroke="#000" stroke-width="1.9" stroke-linejoin="miter"/>
<polygon points="410.38,449.04 416.28,455.84 410.38,462.64 404.48,455.84" fill="#fff" stroke="#000" stroke-width="1.9" stroke-linejoin="miter"/>
<polygon points="418.14,432.78 424.04,439.58 418.14,446.38 412.24,439.58" fill="#fff" stroke="#000" stroke-width="1.9" stroke-linejoin="miter"/>
<polygon points="425.9,432.78 431.8,439.58 425.9,446.38 420,439.58" fill="#fff" stroke="#000" stroke-width="1.9" stroke-linejoin="miter"/>
<polygon points="433.66,432.78 439.56,439.58 433.66,446.38 427.76,439.58" fill="#fff" stroke="#000" stroke-width="1.9" stroke-linejoin="miter"/>
<polygon points="441.42,416.51 447.32,423.31 441.42,430.11 435.52,423.31" fill="#fff" stroke="#000" stroke-width="1.9" stroke-linejoin="miter"/>
<polygon points="449.18,416.51 455.08,423.31 449.18,430.11 443.28,423.31" fill="#fff" stroke="#000" stroke-width="1.9" stroke-linejoin="miter"/>
<polygon points="456.94,416.51 462.84,423.31 456.94,430.11 451.04,423.31" fill="#fff" stroke="#000" stroke-width="1.9" stroke-linejoin="miter"/>
<polygon points="464.7,416.51 470.6,423.31 464.7,430.11 458.8,423.31" fill="#fff" stroke="#000" stroke-width="1.9" stroke-linejoin="miter"/>
<polygon points="472.46,400.25 478.36,407.05 472.46,413.85 466.56,407.05" fill="#fff" stroke="#000" stroke-width="1.9" stroke-linejoin="miter"/>
<polygon points="480.22,400.25 486.12,407.05 480.22,413.85 474.32,407.05" fill="#fff" stroke="#000" stroke-width="1.9" stroke-linejoin="miter"/>
<polygon points="487.98,400.25 493.88,407.05 487.98,413.85 482.08,407.05" fill="#fff" stroke="#000" stroke-width="1.9" stroke-linejoin="miter"/>
<polygon points="495.74,400.25 501.64,407.05 495.74,413.85 489.84,407.05" fill="#fff" stroke="#000" stroke-width="1.9" stroke-linejoin="miter"/>
<polygon points="503.5,400.25 509.4,407.05 503.5,413.85 497.6,407.05" fill="#fff" stroke="#000" stroke-width="1.9" stroke-linejoin="miter"/>
<path d="M348.3 472.1H387.1 V455.84H402.62 V439.58H425.9 V423.31H433.66 V407.05H503.5" fill="none" stroke="#000" stroke-width="1.9"/>
<circle cx="348.3" cy="472.1" r="4.3" fill="#d8d8d8" stroke="#000" stroke-width="1.5"/>
<circle cx="356.06" cy="472.1" r="4.3" fill="#d8d8d8" stroke="#000" stroke-width="1.5"/>
<circle cx="363.82" cy="472.1" r="4.3" fill="#d8d8d8" stroke="#000" stroke-width="1.5"/>
<circle cx="371.58" cy="472.1" r="4.3" fill="#d8d8d8" stroke="#000" stroke-width="1.5"/>
<circle cx="379.34" cy="472.1" r="4.3" fill="#d8d8d8" stroke="#000" stroke-width="1.5"/>
<circle cx="387.1" cy="455.84" r="4.3" fill="#d8d8d8" stroke="#000" stroke-width="1.5"/>
<circle cx="394.86" cy="455.84" r="4.3" fill="#d8d8d8" stroke="#000" stroke-width="1.5"/>
<circle cx="402.62" cy="439.58" r="4.3" fill="#d8d8d8" stroke="#000" stroke-width="1.5"/>
<circle cx="410.38" cy="439.58" r="4.3" fill="#d8d8d8" stroke="#000" stroke-width="1.5"/>
<circle cx="418.14" cy="439.58" r="4.3" fill="#d8d8d8" stroke="#000" stroke-width="1.5"/>
<circle cx="425.9" cy="423.31" r="4.3" fill="#d8d8d8" stroke="#000" stroke-width="1.5"/>
<circle cx="433.66" cy="407.05" r="4.3" fill="#d8d8d8" stroke="#000" stroke-width="1.5"/>
<circle cx="441.42" cy="407.05" r="4.3" fill="#d8d8d8" stroke="#000" stroke-width="1.5"/>
<circle cx="449.18" cy="407.05" r="4.3" fill="#d8d8d8" stroke="#000" stroke-width="1.5"/>
<circle cx="456.94" cy="407.05" r="4.3" fill="#d8d8d8" stroke="#000" stroke-width="1.5"/>
<circle cx="464.7" cy="407.05" r="4.3" fill="#d8d8d8" stroke="#000" stroke-width="1.5"/>
<circle cx="472.46" cy="407.05" r="4.3" fill="#d8d8d8" stroke="#000" stroke-width="1.5"/>
<circle cx="480.22" cy="407.05" r="4.3" fill="#d8d8d8" stroke="#000" stroke-width="1.5"/>
<circle cx="487.98" cy="407.05" r="4.3" fill="#d8d8d8" stroke="#000" stroke-width="1.5"/>
<circle cx="495.74" cy="407.05" r="4.3" fill="#d8d8d8" stroke="#000" stroke-width="1.5"/>
<circle cx="503.5" cy="407.05" r="4.3" fill="#d8d8d8" stroke="#000" stroke-width="1.5"/>
<line x1="338.9" y1="336.5" x2="354.9" y2="336.5" stroke="#000" stroke-width="1.6"/>
<circle cx="346.9" cy="336.5" r="4.3" fill="#d8d8d8" stroke="#000" stroke-width="1.5"/>
<polygon points="347.1,349.2 354,356.1 347.1,363 340.2,356.1" fill="#fff" stroke="#000" stroke-width="1.8"/>
<polygon points="347.1,368.2 354.7,375.8 347.1,383.4 339.5,375.8" fill="#000"/>
<g font-family='"Liberation Sans", Arial, Helvetica, sans-serif' font-weight="bold" font-size="11.2" fill="#000">
<text x="363.6" y="340.5">Wildtype</text>
<text x="363.6" y="360.1">CD1KO</text>
<text x="363.6" y="379.8">J&#945;18KO</text>
</g>
<g font-family='"Liberation Sans", Arial, Helvetica, sans-serif' font-weight="bold" fill="#000">
<text x="-0.5" y="18.3" font-size="25">A</text>
<text x="331.4" y="18" font-size="25">B</text>
<text x="85.4" y="71.1" font-size="18" textLength="130.6" lengthAdjust="spacingAndGlyphs">Isotype control</text>
<text x="426.7" y="70.8" font-size="18" textLength="34.2" lengthAdjust="spacingAndGlyphs">1H6</text>
<text x="256.2" y="48.8" font-size="19.8" textLength="59.2" lengthAdjust="spacingAndGlyphs">NS0-V</text>
<rect x="256.5" y="51.9" width="58.2" height="2.7" fill="#000"/>
<text x="247.7" y="309.7" font-size="19.8" textLength="84" lengthAdjust="spacingAndGlyphs">NS0-CD1</text>
<rect x="250" y="314.7" width="79" height="2.9" fill="#000"/>
<text transform="translate(19.6 408.4) rotate(-90)" font-size="25.5" textLength="255" lengthAdjust="spacingAndGlyphs">Mice with tumor (%)</text>
<text x="132.9" y="534.6" font-size="24.7" textLength="341" lengthAdjust="spacingAndGlyphs">Days after tumor inoculation</text>
</g>
</svg>
</body></html>
